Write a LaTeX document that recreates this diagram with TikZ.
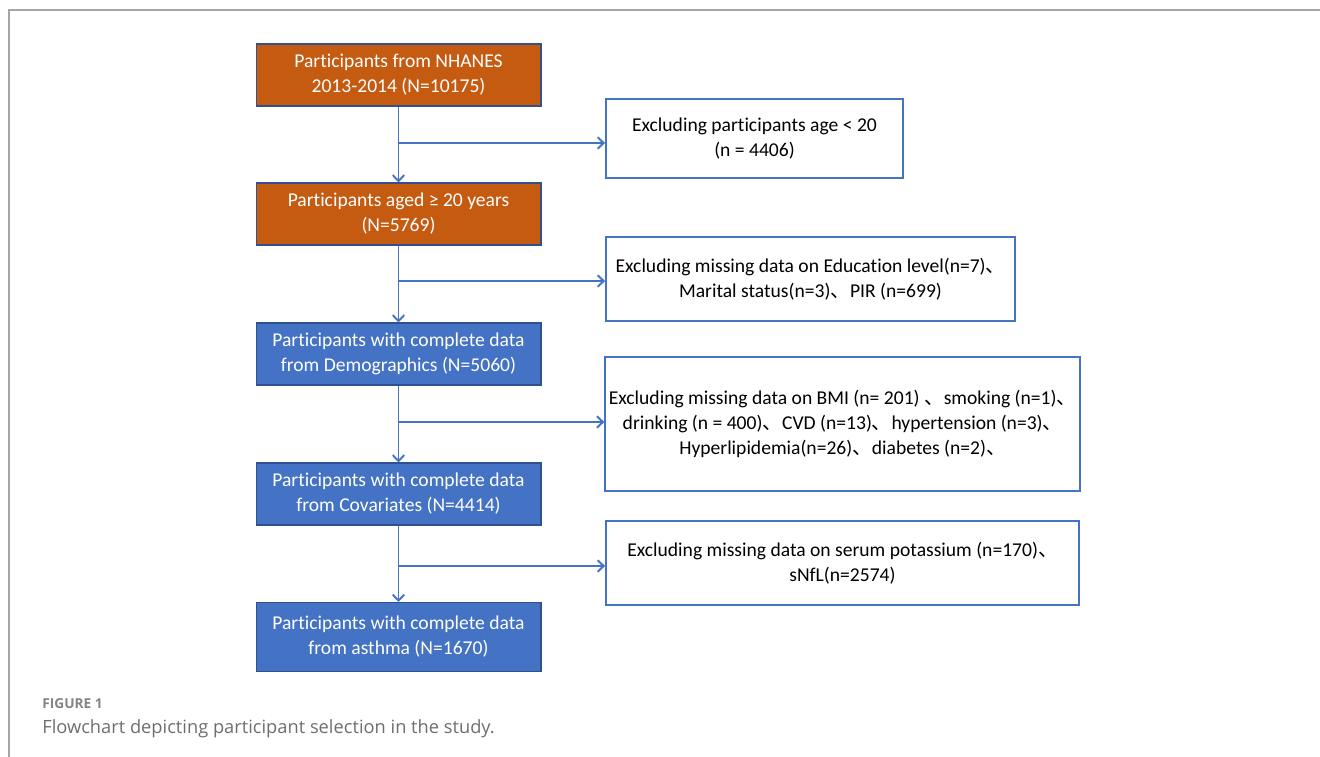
\documentclass[tikz,border=0pt]{standalone}
\usepackage{fontspec}
\setmainfont[Ligatures=NoCommon]{Carlito}
\newfontfamily\cjk{Noto Sans CJK SC}
\newfontfamily\capfont{Open Sans}
\usetikzlibrary{arrows.meta}

\definecolor{boxorange}{HTML}{C55A11}
\definecolor{boxblue}{HTML}{4472C4}
\definecolor{edgeblue}{HTML}{2F528F}
\definecolor{framegray}{HTML}{A6A6A6}
\definecolor{captiongray}{HTML}{6E6E6E}
\def\dun{{\cjk 、}}
\def\boxfont{\fontsize{11.15}{14.2}\selectfont}

\begin{document}
\begin{tikzpicture}[
x=0.02cm, y=-0.02cm,
stage/.style={rectangle, draw=edgeblue, line width=0.6pt, text=white, minimum width=5.7cm, minimum height=1.24cm, align=center, font=\boxfont},
orangebox/.style={stage, fill=boxorange},
bluebox/.style={stage, fill=boxblue},
exclude/.style={rectangle, draw=boxblue, line width=1.1pt, fill=white, inner sep=2pt, align=center, font=\boxfont},
link/.style={draw=boxblue, line width=1.1pt, -{Straight Barb[length=1.2mm,width=2.3mm]}},
]
\useasboundingbox (0,0) rectangle (1320,757);

% Frame:
\draw[framegray, line width=0.8pt] (9,757) -- (9,10) -- (1320,10);

\node[orangebox] at (398.5,75) (all) {Participants from NHANES\\2013-2014 (N=10175)};
\node[orangebox] at (398.5,214) (adult) {Participants aged ≥ 20 years\\(N=5769)};
\node[bluebox] at (398.5,354) (demo) {Participants with complete data\\from Demographics (N=5060)};
\node[bluebox] at (398.5,494) (cov) {Participants with complete data\\from Covariates (N=4414)};
\node[bluebox, minimum height=1.38cm] at (398.5,637) (asth) {Participants with complete data\\from asthma (N=1670)};

\node[exclude, minimum width=5.94cm, minimum height=1.58cm] at (754.5,138.5) (ex1) {Excluding participants age < 20\\(n = 4406)};
\node[exclude, minimum width=8.18cm, minimum height=1.68cm] at (810.5,279) (ex2) {Excluding missing data on Education level(n=7)\dun\\Marital status(n=3)\dun PIR (n=699)};
\node[exclude, minimum width=9.46cm, minimum height=2.68cm] at (842.5,424) (ex3) {Excluding missing data on BMI (n= 201) \dun smoking (n=1)\dun\\drinking (n = 400)\dun CVD (n=13)\dun hypertension (n=3)\dun\\Hyperlipidemia(n=26)\dun diabetes (n=2)\dun};
\node[exclude, minimum width=9.46cm, minimum height=1.68cm] at (842.5,563) (ex4) {Excluding missing data on serum potassium (n=170)\dun\\sNfL(n=2574)};

% Branch points:
\coordinate (b1) at (398.5,143);
\coordinate (b2) at (398.5,281);
\coordinate (b3) at (398.5,422);
\coordinate (b4) at (398.5,566);

\draw[link] (all) -- (adult);
\draw[link] (adult) -- (demo);
\draw[link] (demo) -- (cov);
\draw[link] (cov) -- (asth);

\draw[link] (b1) -- (b1 -| ex1.west);
\draw[link] (b2) -- (b2 -| ex2.west);
\draw[link] (b3) -- (b3 -| ex3.west);
\draw[link] (b4) -- (b4 -| ex4.west);

% Caption:
\node[anchor=base west, inner sep=0pt, text=captiongray!85, font=\capfont\bfseries\fontsize{7.8}{9}\selectfont] at (42,708) (figno) {FIGURE 1};
\node[anchor=base west, inner sep=0pt, text=captiongray, font=\capfont\fontsize{10.4}{12}\selectfont] at (42,733) (figcap) {Flowchart depicting participant selection in the study.};
\end{tikzpicture}
\end{document}
